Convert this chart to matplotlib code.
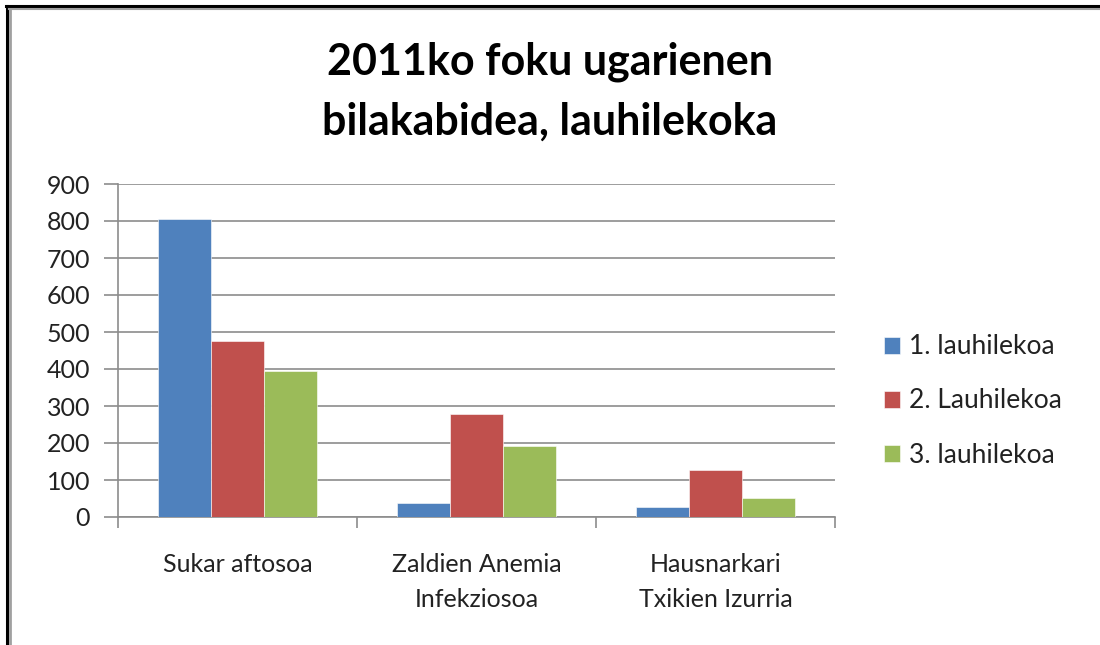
import numpy as np
import matplotlib.pyplot as plt
from matplotlib.lines import Line2D

plt.rcParams['font.family'] = ['Lato', 'DejaVu Sans']

categories = ['Sukar aftosoa', 'Zaldien Anemia\nInfekziosoa', 'Hausnarkari\nTxikien Izurria']
series_names = ['1. lauhilekoa', '2. Lauhilekoa', '3. lauhilekoa']
q1 = [805, 39, 28]
q2 = [476, 279, 128]
q3 = [395, 193, 51]
colors = ['#4F81BD', '#C0504D', '#9BBB59']

fig = plt.figure(figsize=(11, 6.45), dpi=100)
ax = fig.add_axes([118 / 1100, 128 / 645, 717 / 1100, 333 / 645])

x = np.arange(len(categories))
w = 0.222
for i, (vals, name, c) in enumerate(zip([q1, q2, q3], series_names, colors)):
    ax.bar(x + (i - 1) * w, vals, width=w, color=c, label=name,
           edgecolor='white', linewidth=0.4, zorder=3)

ax.set_xlim(-0.5, 2.5)
ax.set_ylim(0, 900)
ax.set_yticks(range(0, 901, 100))
ax.yaxis.grid(True, color='#8c8c8c', linewidth=1.2, zorder=0)
ax.tick_params(axis='y', length=10, color='#8c8c8c', width=1.2, labelsize=18,
               pad=10, labelcolor='#222222')

ax.set_xticks(x)
ax.set_xticklabels(categories, fontsize=18, color='#222222', linespacing=1.65)
ax.tick_params(axis='x', which='major', length=0, pad=26)
ax.set_xticks([-0.5, 0.5, 1.5, 2.5], minor=True)
ax.tick_params(axis='x', which='minor', length=8, color='#8c8c8c', width=1.2)

for s in ['top', 'right']:
    ax.spines[s].set_visible(False)
for s in ['left', 'bottom']:
    ax.spines[s].set_color('#8c8c8c')
    ax.spines[s].set_linewidth(1.2)

fig.text(0.5, 1 - 62 / 645, '2011ko foku ugarienen', ha='center', va='center',
         fontsize=31, fontweight='bold')
fig.text(0.5, 1 - 122 / 645, 'bilakabidea, lauhilekoka', ha='center', va='center',
         fontsize=31, fontweight='bold')

leg = ax.legend(loc='center left', bbox_to_anchor=(860 / 1100, 1 - 401 / 645),
                bbox_transform=fig.transFigure, frameon=False, fontsize=19,
                handlelength=0.6, handleheight=0.6, handletextpad=0.35,
                labelspacing=1.1)
for t in leg.get_texts():
    t.set_color('#222222')

# outer frame: black line with grey shadow on top and left
fig.add_artist(Line2D([7 / 1100, 7 / 1100], [0, 1 - 6 / 645], color='black', linewidth=2.2, transform=fig.transFigure))
fig.add_artist(Line2D([9.5 / 1100, 9.5 / 1100], [0, 1 - 8.5 / 645], color='#a0a0a0', linewidth=2, transform=fig.transFigure))
fig.add_artist(Line2D([6 / 1100, 1], [1 - 6 / 645, 1 - 6 / 645], color='black', linewidth=2.2, transform=fig.transFigure))
fig.add_artist(Line2D([8.5 / 1100, 1], [1 - 8.5 / 645, 1 - 8.5 / 645], color='#a0a0a0', linewidth=1.5, transform=fig.transFigure))

fig.savefig('out.png', dpi=100)
